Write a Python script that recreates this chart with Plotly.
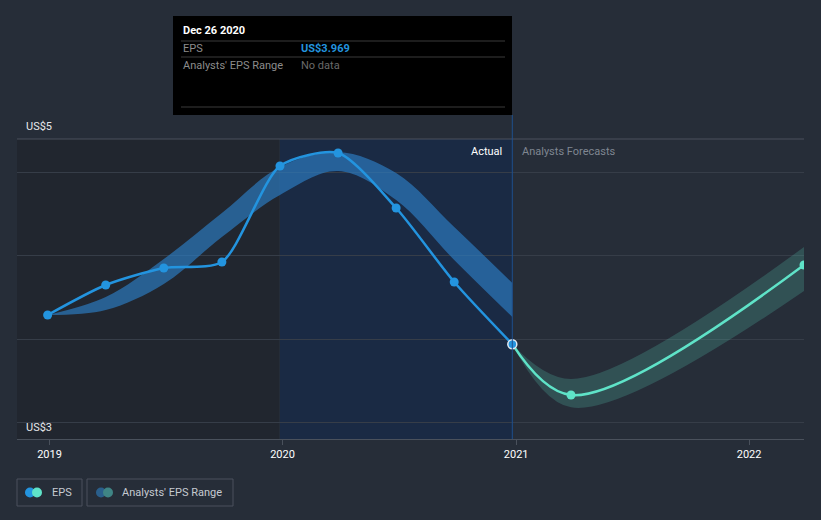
import plotly.graph_objects as go

# ---------------- data ----------------
eps_dates = ["2018-12-29", "2019-03-30", "2019-06-29", "2019-09-28", "2019-12-28",
             "2020-03-28", "2020-06-27", "2020-09-26", "2020-12-26"]
eps_values = [4.144, 4.324, 4.426, 4.462, 5.038, 5.116, 4.786, 4.342, 3.969]

past_range_upper = [4.144, 4.252, 4.48, 4.756, 5.032, 5.122, 4.996, 4.672, 4.336]
past_range_lower = [4.144, 4.174, 4.33, 4.612, 4.864, 5.008, 4.834, 4.474, 4.132]

fc_dates = ["2020-12-26", "2021-03-28", "2022-03-28"]
fc_values = [3.969, 3.664, 4.444]
fc_upper = [3.969, 3.76, 4.552]
fc_lower = [3.969, 3.59, 4.288]

x_tick_vals = ["2019-01-01", "2020-01-01", "2021-01-01", "2022-01-01"]
x_tick_text = ["2019", "2020", "2021", "2022"]
y_grid_vals = [3.5, 4.0, 4.5, 5.0]
y_labels = ["US$5", "US$3"]

# ---------------- layout helpers ----------------
W, H = 821, 520
L, R, T, B = 17, 804, 139, 439


def px(xp):
    return (xp - L) / (R - L)


def py(yp):
    return (B - yp) / (B - T)


BG = "#262d38"
BLUE = "#2394df"
TEAL = "#5fe3c8"
FONT = "Roboto, Open Sans, sans-serif"

fig = go.Figure()

# past analyst range band
fig.add_trace(go.Scatter(x=eps_dates, y=past_range_upper, mode="lines",
                         line=dict(width=0, shape="spline", smoothing=1),
                         hoverinfo="skip", showlegend=False))
fig.add_trace(go.Scatter(x=eps_dates, y=past_range_lower, mode="lines",
                         line=dict(width=0, shape="spline", smoothing=1),
                         fill="tonexty", fillcolor="rgba(45,128,200,0.65)",
                         hoverinfo="skip", showlegend=False))

# forecast band
fig.add_trace(go.Scatter(x=fc_dates, y=fc_upper, mode="lines",
                         line=dict(width=0, shape="spline", smoothing=1),
                         hoverinfo="skip", showlegend=False))
fig.add_trace(go.Scatter(x=fc_dates, y=fc_lower, mode="lines",
                         line=dict(width=0, shape="spline", smoothing=1),
                         fill="tonexty", fillcolor="rgba(95,227,200,0.2)",
                         hoverinfo="skip", showlegend=False))

# forecast line
fig.add_trace(go.Scatter(x=fc_dates[1:], y=fc_values[1:], mode="markers",
                         marker=dict(color=TEAL, size=9), showlegend=False))
fig.add_trace(go.Scatter(x=fc_dates, y=fc_values, mode="lines",
                         line=dict(color=TEAL, width=2.5, shape="spline", smoothing=1),
                         showlegend=False))

# EPS line
fig.add_trace(go.Scatter(x=eps_dates, y=eps_values, mode="lines+markers",
                         line=dict(color=BLUE, width=2.5, shape="spline", smoothing=0.7),
                         marker=dict(color=BLUE, size=9), showlegend=False))
# highlighted last point
fig.add_trace(go.Scatter(x=eps_dates[-1:], y=eps_values[-1:], mode="markers",
                         marker=dict(color=BLUE, size=9, line=dict(color="#dfe8f2", width=1.5)),
                         showlegend=False))

shapes = []
# darker past region and highlighted last-year region
shapes.append(dict(type="rect", xref="paper", yref="paper", x0=0, x1=px(279), y0=0, y1=1,
                   fillcolor="#21262f", line=dict(width=0), layer="below"))
shapes.append(dict(type="rect", xref="x", yref="paper", x0=eps_dates[4], x1=eps_dates[-1],
                   y0=0, y1=1, fillcolor="#1a2a44", line=dict(width=0), layer="below"))
# top border line
shapes.append(dict(type="line", xref="paper", yref="paper", x0=0, x1=1, y0=1, y1=1,
                   line=dict(color="#4a515c", width=1), layer="below"))
# vertical divider
shapes.append(dict(type="line", xref="x", yref="paper", x0=eps_dates[-1], x1=eps_dates[-1],
                   y0=0, y1=py(115), line=dict(color="#1f4f8c", width=1)))
# tooltip box
shapes.append(dict(type="rect", xref="paper", yref="paper", x0=px(173), x1=px(512),
                   y0=py(115), y1=py(16), fillcolor="#000000", line=dict(width=0)))
for yy in (41, 57, 107):
    shapes.append(dict(type="line", xref="paper", yref="paper", x0=px(181), x1=px(505),
                       y0=py(yy), y1=py(yy), line=dict(color="#3a3a3a", width=1)))
# legend boxes
shapes.append(dict(type="rect", xref="paper", yref="paper", x0=px(17), x1=px(82),
                   y0=py(506), y1=py(479), line=dict(color="#4a515c", width=1),
                   fillcolor="rgba(0,0,0,0)"))
shapes.append(dict(type="rect", xref="paper", yref="paper", x0=px(87), x1=px(233),
                   y0=py(506), y1=py(479), line=dict(color="#4a515c", width=1),
                   fillcolor="rgba(0,0,0,0)"))


# legend icons
def dot(cx, cy, r, color):
    return dict(type="circle", xref="paper", yref="paper", x0=px(cx - r), x1=px(cx + r),
                y0=py(cy + r), y1=py(cy - r), fillcolor=color, line=dict(width=0))


shapes.append(dot(30, 492.5, 5, BLUE))
shapes.append(dot(37, 492.5, 5, TEAL))
shapes.append(dot(101, 492.5, 5, "#2a5f8c"))
shapes.append(dot(108, 492.5, 5, "#3f8585"))

annotations = []


def text(t, xp, yp, color, size=11, anchor="left", bold=False):
    annotations.append(dict(text=("<b>%s</b>" % t) if bold else t, xref="paper", yref="paper",
                            x=px(xp), y=py(yp), xanchor=anchor, yanchor="middle",
                            showarrow=False, font=dict(color=color, size=size, family=FONT)))


text(y_labels[0], 24, 127, "#e6e8eb", 11)
text(y_labels[1], 24, 427, "#e6e8eb", 11)
text("Actual", 504, 151, "#ffffff", 11, anchor="right")
text("Analysts Forecasts", 520, 151, "#7f8691", 11)
text("Dec 26 2020", 181, 31, "#ffffff", 11, bold=True)
text("EPS", 181, 48, "#8c8c8c", 11)
text("US$3.969", 299, 48, BLUE, 11, bold=True)
text("Analysts' EPS Range", 181, 65, "#8c8c8c", 11)
text("No data", 299, 65, "#6a6a6a", 11)
text("EPS", 50, 492.5, "#c5cad1", 11)
text("Analysts' EPS Range", 120, 492.5, "#c5cad1", 11)

fig.update_layout(
    width=W, height=H,
    margin=dict(l=L, r=W - R, t=T, b=H - B),
    paper_bgcolor=BG, plot_bgcolor=BG,
    font=dict(family=FONT, color="#e6e8eb", size=11),
    shapes=shapes, annotations=annotations,
    showlegend=False,
    xaxis=dict(type="date", range=["2018-11-11", "2022-03-28"],
               tickvals=x_tick_vals, ticktext=x_tick_text,
               showgrid=False, zeroline=False,
               showline=True, linecolor="#4a515c", linewidth=1,
               ticks="outside", ticklen=5, tickcolor="#4a515c",
               tickfont=dict(color="#ffffff", size=11, family=FONT)),
    yaxis=dict(range=[3.4, 5.2], tickvals=y_grid_vals, showticklabels=False,
               showgrid=True, gridcolor="#363d48", gridwidth=1, zeroline=False,
               showline=False, fixedrange=True),
)

fig.write_html("out.html", config={"displayModeBar": False},
               post_script="document.body.style.margin='0';document.body.style.background='%s';" % BG)
